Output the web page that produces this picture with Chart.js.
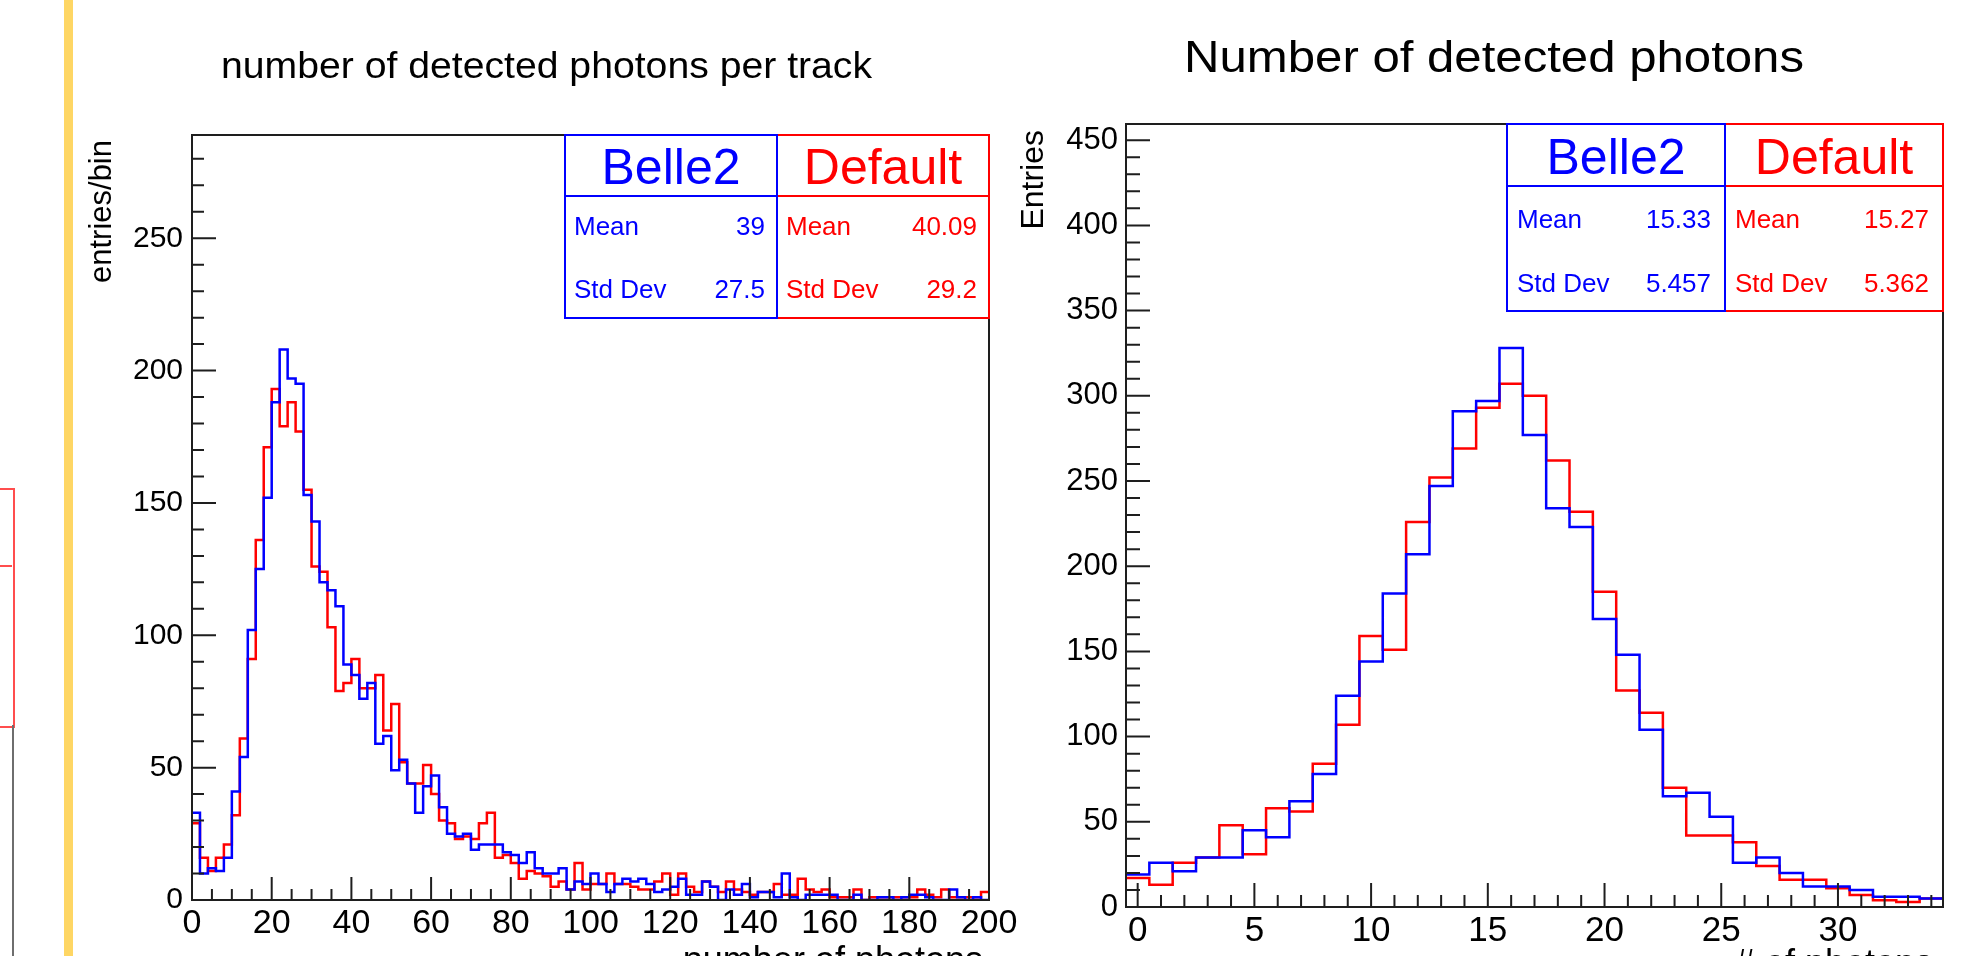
<!DOCTYPE html>
<html>
<head>
<meta charset="utf-8">
<title>number of detected photons</title>
<script src="https://cdn.jsdelivr.net/npm/chart.js@4.4.0/dist/chart.umd.min.js"></script>
<style>
    html, body { margin: 0; padding: 0; background: #fff; }
    body { width: 1983px; height: 956px; position: relative; overflow: hidden; }
    canvas { position: absolute; left: 0; top: 0; }
    .slideBar { position: absolute; left: 64px; top: 0; width: 9px; height: 956px; background: #fed664; }
    .oldBox { position: absolute; left: -10px; top: 488px; width: 21px; height: 236px; border: 2px solid #ff4d4d; }
    .oldRule { position: absolute; left: 0; top: 565px; width: 12px; height: 2px; background: #ff4d4d; }
    .oldAxis { position: absolute; left: 12px; top: 725px; width: 2px; height: 231px; background: #6e6e6e; }
</style>
</head>
<body>
<div class="slideBar"></div>
<div class="oldBox"></div>
<div class="oldRule"></div>
<div class="oldAxis"></div>
<canvas id="leftChart" width="1983" height="956"></canvas>
<canvas id="rightChart" width="1983" height="956"></canvas>

<script>
// -------- DATA: left plot, 100 bins of width 2 from 0 to 200 --------
const leftBinStart = 0;
const leftBinWidth = 2;
const leftBelle2 = [
    33, 10, 12, 11, 16, 41, 54, 102, 125, 152,
    188, 208, 197, 195, 153, 143, 120, 117, 111, 89,
    85, 76, 82, 59, 62, 49, 53, 44, 33, 43,
    47, 35, 25, 24, 25, 19, 21, 21, 21, 18,
    17, 14, 18, 12, 10, 10, 12, 4, 7, 6,
    10, 6, 3, 6, 8, 7, 8, 6, 3, 4,
    5, 8, 2, 2, 7, 5, 0, 4, 2, 6,
    1, 3, 3, 1, 10, 1, 0, 2, 2, 2,
    2, 0, 0, 2, 0, 0, 1, 1, 0, 1,
    2, 2, 1, 0, 0, 4, 1, 0, 1, 0
];
const leftDefault = [
    29, 16, 11, 16, 21, 32, 61, 91, 136, 171,
    193, 179, 188, 177, 155, 126, 124, 103, 79, 82,
    91, 80, 80, 85, 64, 74, 52, 44, 44, 51,
    40, 30, 29, 23, 24, 23, 29, 33, 16, 17,
    14, 8, 11, 10, 9, 5, 7, 4, 14, 4,
    6, 6, 10, 6, 6, 5, 4, 4, 7, 10,
    2, 10, 5, 3, 7, 5, 3, 7, 4, 3,
    2, 3, 3, 6, 2, 2, 8, 4, 3, 4,
    1, 1, 1, 4, 0, 1, 1, 1, 1, 1,
    1, 4, 2, 1, 4, 1, 1, 1, 1, 3
];
const leftXTicks = [0, 20, 40, 60, 80, 100, 120, 140, 160, 180, 200];
const leftYTicks = [0, 50, 100, 150, 200, 250];
const leftBelle2Stats = ["39", "27.5"];
const leftDefaultStats = ["40.09", "29.2"];

// -------- DATA: right plot, 35 bins of width 1 from -0.5 to 34.5 --------
const rightBinStart = -0.5;
const rightBinWidth = 1;
const rightBelle2 = [
    19, 26, 21, 29, 29, 45, 41, 62, 78, 124,
    144, 184, 207, 247, 291, 297, 328, 277, 234, 223,
    169, 148, 104, 65, 67, 53, 26, 29, 20, 12,
    12, 10, 6, 6, 5
];
const rightDefault = [
    17, 13, 26, 29, 48, 31, 58, 56, 84, 107,
    159, 151, 226, 252, 269, 293, 307, 300, 262, 232,
    185, 127, 114, 70, 42, 42, 38, 24, 16, 16,
    11, 7, 4, 3, 5
];
const rightXTicks = [0, 5, 10, 15, 20, 25, 30];
const rightYTicks = [0, 50, 100, 150, 200, 250, 300, 350, 400, 450];
const rightBelle2Stats = ["15.33", "5.457"];
const rightDefaultStats = ["15.27", "5.362"];

const statLabels = ["Mean", "Std Dev"];

// -------- HELPERS --------
const FONT = "'Liberation Sans', Arial, Helvetica, sans-serif";
const BLUE = "#0000ff";
const RED = "#ff0000";
const INK = "#1e1e1e";

Chart.defaults.font.family = FONT;
Chart.defaults.color = "#000";

// histogram outline: one point per bin edge, value held until the next edge
function toSteps(values, start, width) {
    const pts = values.map((v, i) => ({ x: start + i * width, y: v }));
    pts.push({ x: start + values.length * width, y: values[values.length - 1] });
    return pts;
}

function fixedTicks(list) {
    return axis => { axis.ticks = list.map(v => ({ value: v })); };
}

function innerTicks(scale, major, minor, lens, draw) {
    const first = Math.ceil(scale.min / minor - 1e-9);
    for (let i = first; i * minor <= scale.max + 1e-9; i++) {
        const v = i * minor;
        const isMajor = Math.abs(v / major - Math.round(v / major)) < 1e-6;
        draw(scale.getPixelForValue(v), isMajor ? lens[0] : lens[1]);
    }
}

function fitText(ctx, text, x, y, size, width) {
    ctx.font = `${size}px ${FONT}`;
    const w = ctx.measureText(text).width;
    ctx.save();
    ctx.translate(x, y);
    ctx.scale(width / w, 1);
    ctx.textAlign = "left";
    ctx.fillText(text, 0, 0);
    ctx.restore();
}

function statBox(ctx, x0, x1, top, b, color, name, values) {
    ctx.fillStyle = "#fff";
    ctx.fillRect(x0, top, x1 - x0, b.bottom - top);
    ctx.strokeStyle = color;
    ctx.lineWidth = 2;
    ctx.strokeRect(x0, top, x1 - x0, b.bottom - top);
    ctx.beginPath();
    ctx.moveTo(x0, b.divider);
    ctx.lineTo(x1, b.divider);
    ctx.stroke();

    ctx.fillStyle = color;
    ctx.font = `${b.headSize}px ${FONT}`;
    ctx.textAlign = "center";
    ctx.fillText(name, (x0 + x1) / 2, b.headBase);

    ctx.font = `${b.rowSize}px ${FONT}`;
    statLabels.forEach((lab, i) => {
        ctx.textAlign = "left";
        ctx.fillText(lab, x0 + b.padL, b.rowBase[i]);
        ctx.textAlign = "right";
        ctx.fillText(values[i], x1 - b.padR, b.rowBase[i]);
    });
}

// frame, inward ticks, titles and stat boxes in ROOT style
const rootStyle = {
    id: "rootStyle",
    afterDatasetsDraw(chart, args, o) {
        const { ctx, chartArea: a, scales } = chart;
        ctx.save();
        ctx.strokeStyle = INK;
        ctx.lineWidth = 2;
        ctx.strokeRect(a.left, a.top, a.right - a.left, a.bottom - a.top);
        ctx.beginPath();
        innerTicks(scales.x, o.xMajor, o.xMinor, o.xLen, (p, len) => {
            ctx.moveTo(p, a.bottom);
            ctx.lineTo(p, a.bottom - len);
        });
        innerTicks(scales.y, o.yMajor, o.yMinor, o.yLen, (p, len) => {
            ctx.moveTo(a.left, p);
            ctx.lineTo(a.left + len, p);
        });
        ctx.stroke();
        ctx.restore();
    },
    afterDraw(chart, args, o) {
        const { ctx, chartArea: a } = chart;
        ctx.save();
        ctx.fillStyle = "#000";
        ctx.textBaseline = "alphabetic";
        fitText(ctx, o.title, o.titleX, o.titleY, o.titleSize, o.titleWidth);

        ctx.save();
        ctx.translate(o.yTitleX, o.yTitleY);
        ctx.rotate(-Math.PI / 2);
        ctx.font = `${o.yTitleSize}px ${FONT}`;
        ctx.textAlign = "right";
        ctx.fillText(o.yTitle, 0, 0);
        ctx.restore();

        ctx.font = `${o.xTitleSize}px ${FONT}`;
        ctx.textAlign = "right";
        ctx.fillText(o.xTitle, o.xTitleX, o.xTitleY);

        const b = o.box;
        statBox(ctx, b.mid, a.right, a.top, b, RED, "Default", o.defaultStats);
        statBox(ctx, b.left, b.mid, a.top, b, BLUE, "Belle2", o.belle2Stats);
        ctx.restore();
    }
};

function histChart(id, c) {
    return new Chart(document.getElementById(id), {
        type: "line",
        data: {
            datasets: [{
                label: "Belle2",
                data: toSteps(c.belle2, c.binStart, c.binWidth),
                borderColor: BLUE
            }, {
                label: "Default",
                data: toSteps(c.default, c.binStart, c.binWidth),
                borderColor: RED
            }]
        },
        options: {
            responsive: false,
            animation: false,
            devicePixelRatio: 1,
            layout: { padding: c.padding },
            elements: {
                point: { radius: 0 },
                line: { borderWidth: 2.5, stepped: "before", tension: 0, fill: false }
            },
            plugins: {
                legend: { display: false },
                title: { display: false },
                tooltip: { enabled: false },
                rootStyle: c.style
            },
            scales: {
                x: {
                    type: "linear",
                    min: c.xMin,
                    max: c.xMax,
                    grid: { display: false, drawTicks: false },
                    border: { display: false },
                    ticks: { font: { size: c.xFont }, padding: c.xPad, color: "#000", autoSkip: false, maxRotation: 0 },
                    afterBuildTicks: fixedTicks(c.xTicks),
                    afterFit: s => { s.height = c.xAxisHeight; }
                },
                y: {
                    type: "linear",
                    min: 0,
                    max: c.yMax,
                    grid: { display: false, drawTicks: false },
                    border: { display: false },
                    ticks: { font: { size: c.yFont }, padding: c.yPad, color: "#000" },
                    afterBuildTicks: fixedTicks(c.yTicks),
                    afterFit: s => { s.width = c.yAxisWidth; }
                }
            }
        },
        plugins: [rootStyle]
    });
}

// -------- LEFT: number of detected photons per track --------
histChart("leftChart", {
    belle2: leftBelle2, default: leftDefault,
    binStart: leftBinStart, binWidth: leftBinWidth,
    xMin: 0, xMax: 200, yMax: 289,
    xTicks: leftXTicks, yTicks: leftYTicks,
    xFont: 34, yFont: 30, xPad: 3, yPad: 9,
    padding: { left: 80, top: 135, right: 994, bottom: 0 },
    yAxisWidth: 112, xAxisHeight: 56,
    style: {
        xMajor: 20, xMinor: 5, xLen: [23, 11],
        yMajor: 50, yMinor: 10, yLen: [24, 12],
        title: "number of detected photons per track",
        titleX: 221, titleY: 78, titleSize: 37, titleWidth: 651,
        yTitle: "entries/bin", yTitleX: 111, yTitleY: 140, yTitleSize: 31,
        xTitle: "number of photons", xTitleX: 983, xTitleY: 972, xTitleSize: 36,
        belle2Stats: leftBelle2Stats, defaultStats: leftDefaultStats,
        box: {
            left: 565, mid: 777, divider: 196, bottom: 318,
            headSize: 50, headBase: 184, rowSize: 26, rowBase: [235, 298], padL: 9, padR: 12
        }
    }
});

// -------- RIGHT: Number of detected photons --------
histChart("rightChart", {
    belle2: rightBelle2, default: rightDefault,
    binStart: rightBinStart, binWidth: rightBinWidth,
    xMin: -0.5, xMax: 34.5, yMax: 459.5,
    xTicks: rightXTicks, yTicks: rightYTicks,
    xFont: 35, yFont: 31, xPad: 3, yPad: 8,
    padding: { left: 1000, top: 124, right: 40, bottom: 0 },
    yAxisWidth: 126, xAxisHeight: 49,
    style: {
        xMajor: 5, xMinor: 1, xLen: [24, 12],
        yMajor: 50, yMinor: 10, yLen: [24, 14],
        title: "Number of detected photons",
        titleX: 1184, titleY: 72, titleSize: 45, titleWidth: 620,
        yTitle: "Entries", yTitleX: 1043, yTitleY: 130, yTitleSize: 32,
        xTitle: "# of photons", xTitleX: 1933, xTitleY: 975, xTitleSize: 36,
        belle2Stats: rightBelle2Stats, defaultStats: rightDefaultStats,
        box: {
            left: 1507, mid: 1725, divider: 186, bottom: 311,
            headSize: 50, headBase: 174, rowSize: 26, rowBase: [228, 292], padL: 10, padR: 14
        }
    }
});
</script>
</body>
</html>
